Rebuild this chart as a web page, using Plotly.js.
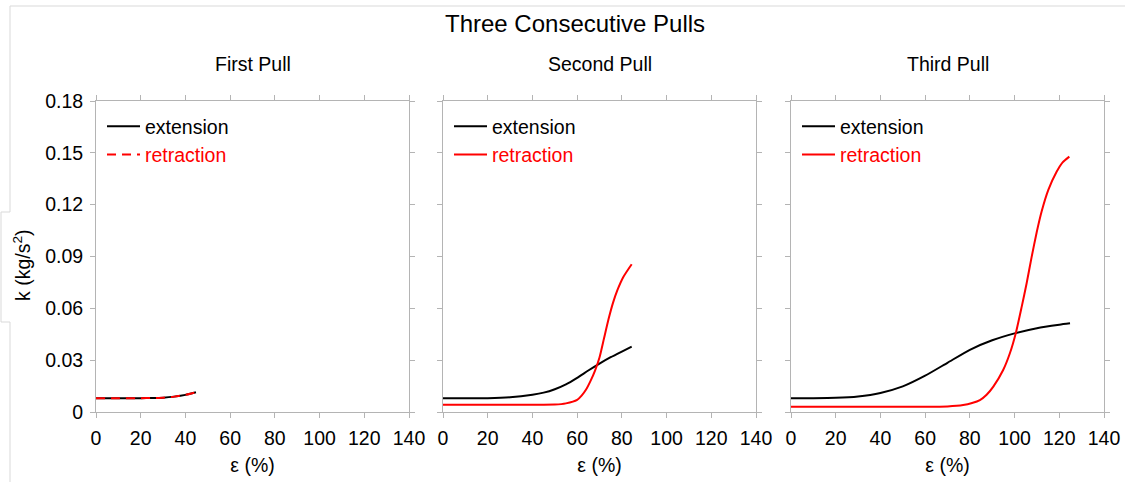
<!DOCTYPE html>
<html>
<head>
<meta charset="utf-8">
<script src="https://cdn.plot.ly/plotly-3.0.1.min.js"></script>
<style>html,body{margin:0;padding:0;background:#fff;}#chart{width:1125px;height:482px;}</style>
</head>
<body>
<div id="chart"></div>
<script>
// ---- data ----
const panelTitles = ["First Pull", "Second Pull", "Third Pull"];
const xTicks = [0, 20, 40, 60, 80, 100, 120, 140];
const yTicks = [0, 0.03, 0.06, 0.09, 0.12, 0.15, 0.18];
const yTickText = ["0", "0.03", "0.06", "0.09", "0.12", "0.15", "0.18"];

const p1ExtX = [0, 10, 20, 25, 30, 35, 40, 44.7];
const p1ExtY = [0.0080, 0.0080, 0.0080, 0.0081, 0.0083, 0.0089, 0.0099, 0.0114];
const p1RetX = [0, 10, 20, 25, 30, 35, 40, 44.7];
const p1RetY = [0.0080, 0.0080, 0.0080, 0.0081, 0.0083, 0.0089, 0.0099, 0.0114];

const p2ExtX = [0, 10, 20, 30, 40, 45, 50, 55, 60, 65, 70, 75, 80, 84.4];
const p2ExtY = [0.0080, 0.0080, 0.0080, 0.0085, 0.0100, 0.0112, 0.0132, 0.0160, 0.0198, 0.0240, 0.0280, 0.0317, 0.0350, 0.0378];
const p2RetX = [0, 20, 40, 50, 55, 60, 62, 64, 66, 68, 70, 72, 74, 76, 78, 80.6, 84.4];
const p2RetY = [0.0042, 0.0042, 0.0042, 0.0043, 0.0050, 0.0070, 0.0095, 0.0130, 0.0180, 0.0240, 0.0315, 0.0425, 0.0535, 0.0630, 0.0705, 0.0780, 0.0855];

const p3ExtX = [0, 10, 20, 30, 40, 50, 60, 70, 80, 90, 100, 110, 120, 124.8];
const p3ExtY = [0.0080, 0.0080, 0.0082, 0.0090, 0.0110, 0.0148, 0.0210, 0.0285, 0.0360, 0.0415, 0.0455, 0.0485, 0.0505, 0.0513];
const p3RetX = [0, 40, 60, 70, 77, 81, 84.5, 87.5, 90.5, 94.9, 97.9, 100.6, 103.2, 105.4, 107.6, 109.9, 112.1, 115.1, 118.8, 121.5, 124.5];
const p3RetY = [0.0030, 0.0030, 0.0030, 0.0032, 0.0040, 0.0052, 0.0069, 0.0100, 0.0147, 0.0243, 0.0340, 0.0459, 0.0610, 0.0745, 0.0895, 0.1040, 0.1160, 0.1285, 0.1390, 0.1445, 0.1478];

const extName = "extension";
const retName = "retraction";

// ---- build ----
const FONT = '"Liberation Sans", Arial, Helvetica, sans-serif';
const FS = 19.5;
const W = 1125, H = 482;
const px = v => v / W;
const py = v => 1 - v / H;

const xDomains = [[px(96), px(409)], [px(443), px(756)], [px(791), px(1104)]];
const yDomain = [py(412), py(101)];

const sets = [
  [p1ExtX, p1ExtY, p1RetX, p1RetY, 'dash'],
  [p2ExtX, p2ExtY, p2RetX, p2RetY, 'solid'],
  [p3ExtX, p3ExtY, p3RetX, p3RetY, 'solid']
];

const traces = [];
sets.forEach((s, i) => {
  const ax = i === 0 ? '' : String(i + 1);
  const leg = i === 0 ? 'legend' : 'legend' + (i + 1);
  traces.push({
    x: s[0], y: s[1], xaxis: 'x' + ax, yaxis: 'y' + ax, type: 'scatter', mode: 'lines',
    name: extName, legend: leg,
    line: {color: '#000000', width: 2, shape: 'spline', smoothing: 0.6}
  });
  traces.push({
    x: s[2], y: s[3], xaxis: 'x' + ax, yaxis: 'y' + ax, type: 'scatter', mode: 'lines',
    name: '<span style="color:#ff0000">' + retName + '</span>', legend: leg,
    line: {color: '#ff0000', width: 2, shape: 'spline', smoothing: 0.6, dash: s[4] === 'dash' ? '9px,6px' : 'solid'}
  });
});

const axisCommon = {
  showline: true, linecolor: '#b4b4b4', linewidth: 1, mirror: 'ticks',
  ticks: 'outside', ticklen: 5, tickcolor: '#b4b4b4', tickwidth: 1,
  showgrid: false, zeroline: false,
  tickfont: {family: FONT, size: FS, color: '#000'}
};

const layout = {
  width: W, height: H,
  margin: {l: 0, r: 0, t: 0, b: 0},
  paper_bgcolor: '#fff', plot_bgcolor: '#fff',
  font: {family: FONT, color: '#000'},
  annotations: [],
  shapes: [
    {type: 'path', xref: 'paper', yref: 'paper',
     path: `M ${px(1125)} ${py(6)} L ${px(10)} ${py(6)} L ${px(10)} ${py(212)} L ${px(1)} ${py(212)} L ${px(1)} ${py(322)} L ${px(10)} ${py(322)} L ${px(10)} ${py(482)}`,
     line: {color: '#d9d9d9', width: 1}}
  ]
};

for (let i = 0; i < 3; i++) {
  const ax = i === 0 ? '' : String(i + 1);
  layout['xaxis' + ax] = Object.assign({}, axisCommon, {
    domain: xDomains[i], range: [0, 140], tickvals: xTicks, ticktext: xTicks.map(String),
    anchor: 'y' + ax, ticklabelstandoff: 4,
    title: {text: 'ε (%)', font: {family: FONT, size: FS, color: '#000'}, standoff: 9}
  });
  layout['yaxis' + ax] = Object.assign({}, axisCommon, {
    domain: yDomain, range: [0, 0.18], tickvals: yTicks, ticktext: yTickText,
    anchor: 'x' + ax, showticklabels: i === 0, ticklabelstandoff: 3
  });
  const leg = i === 0 ? 'legend' : 'legend' + (i + 1);
  layout[leg] = {
    x: px([96, 443, 791][i] + 6), y: py(107), xanchor: 'left', yanchor: 'top',
    bgcolor: 'rgba(0,0,0,0)', borderwidth: 0, itemwidth: 33,
    font: {family: FONT, size: FS, color: '#000'}
  };
  layout.annotations.push({
    text: panelTitles[i], xref: 'paper', yref: 'paper',
    x: (xDomains[i][0] + xDomains[i][1]) / 2, y: py(64),
    xanchor: 'center', yanchor: 'middle', showarrow: false,
    font: {family: FONT, size: FS, color: '#000'}
  });
}

layout.annotations.push({
  text: 'Three Consecutive Pulls', xref: 'paper', yref: 'paper',
  x: px(575), y: py(23), xanchor: 'center', yanchor: 'middle', showarrow: false,
  font: {family: FONT, size: 24, color: '#000'}
});
layout.annotations.push({
  text: 'k (kg/s<sup>2</sup>)', xref: 'paper', yref: 'paper',
  x: px(22), y: py(265), xanchor: 'center', yanchor: 'middle', showarrow: false,
  textangle: -90, font: {family: FONT, size: FS, color: '#000'}
});

Plotly.newPlot('chart', traces, layout, {displayModeBar: false, staticPlot: true});
</script>
</body>
</html>
